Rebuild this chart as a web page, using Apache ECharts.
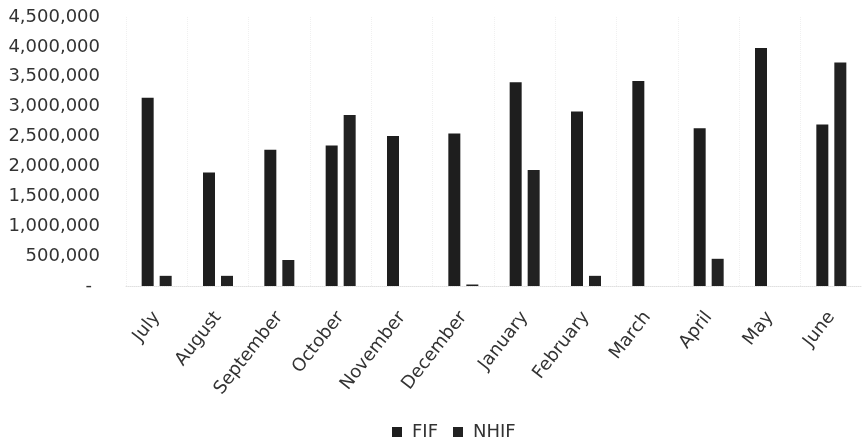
<!DOCTYPE html>
<html>
<head>
<meta charset="utf-8">
<script src="https://cdn.jsdelivr.net/npm/echarts@6/dist/echarts.min.js"></script>
<style>
html,body{margin:0;padding:0;background:#fff;}
#chart{width:862px;height:444px;}
</style>
</head>
<body>
<div id="chart"></div>
<script>
var months = ['July','August','September','October','November','December','January','February','March','April','May','June'];
var fifValues = [3150000, 1900000, 2280000, 2350000, 2510000, 2550000, 3410000, 2920000, 3430000, 2640000, 3980000, 2700000];
var nhifValues = [170000, 170000, 435000, 2860000, null, 25000, 1940000, 170000, null, 455000, null, 3740000];
var yMin = 0, yMax = 4500000, yStep = 500000;

var chart = echarts.init(document.getElementById('chart'), null, {renderer: 'canvas'});
var FONT = 'DejaVu Sans';
chart.setOption({
  animation: false,
  backgroundColor: '#ffffff',
  grid: {left: 126, right: -20, top: 17, bottom: 158, containLabel: false},
  legend: {
    data: ['FIF', 'NHIF'],
    top: 418,
    left: 387,
    itemWidth: 10,
    itemHeight: 10,
    itemGap: 15,
    icon: 'rect',
    textStyle: {fontFamily: FONT, fontSize: 18, color: '#333333', padding: [0,0,0,5]}
  },
  xAxis: {
    type: 'category',
    data: months,
    boundaryGap: true,
    axisLine: {show: true, lineStyle: {color: '#e0e0e0', type: 'dotted'}},
    axisTick: {show: false},
    splitLine: {show: true, lineStyle: {color: '#f0f0f0', type: 'dotted'}},
    axisLabel: {
      interval: 0,
      rotate: 52,
      margin: 28,
      fontFamily: FONT,
      fontSize: 18,
      color: '#333333'
    }
  },
  yAxis: {
    type: 'value',
    min: yMin,
    max: yMax,
    interval: yStep,
    axisLine: {show: false},
    axisTick: {show: false},
    splitLine: {show: false},
    axisLabel: {
      margin: 26,
      fontFamily: FONT,
      fontSize: 18,
      color: '#333333',
      formatter: function (v) {
        if (v === 0) return '{z|-}';
        return v.toLocaleString('en-US');
      },
      rich: {z: {fontFamily: FONT, fontSize: 18, color: '#333333', padding: [0, 8, 0, 0]}}
    }
  },
  series: [
    {name: 'FIF', type: 'bar', data: fifValues, barWidth: 12, barGap: '50%', itemStyle: {color: '#1e1e1e'}},
    {name: 'NHIF', type: 'bar', data: nhifValues, barWidth: 12, itemStyle: {color: '#222222'}}
  ]
});
</script>
</body>
</html>
